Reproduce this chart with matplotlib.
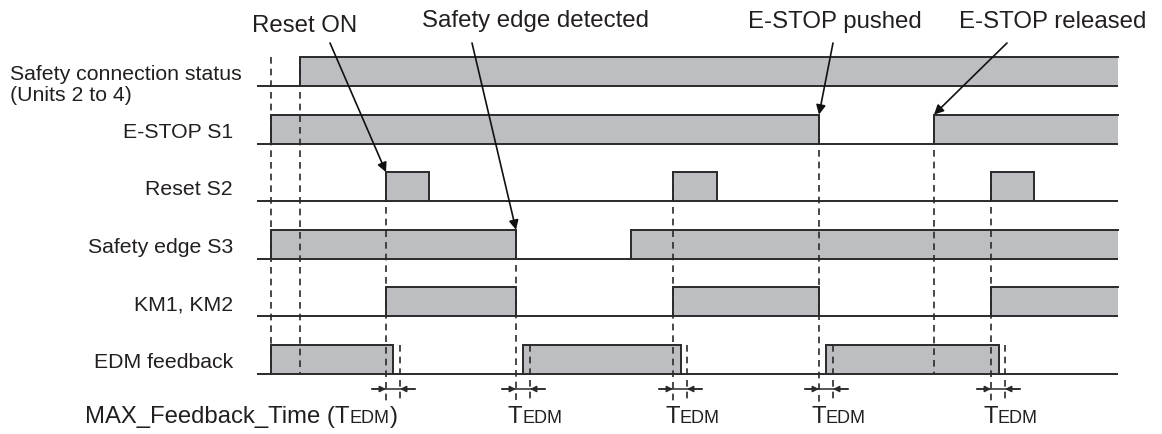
import matplotlib
matplotlib.use('Agg')
import matplotlib.pyplot as plt
from matplotlib.patches import Polygon

plt.rcParams['font.family'] = ['Liberation Sans', 'DejaVu Sans']

# Timeline (horizontal units ~ pixels of the original drawing)
t_start = 271
t_end = 1118
t_edm = 14

row_names = ['E-STOP S1', 'Reset S2', 'Safety edge S3', 'KM1, KM2', 'EDM feedback']

# ON intervals of each signal
conn_status = [(300, t_end)]
estop_s1 = [(t_start, 819), (934, t_end)]
reset_s2 = [(386, 429), (673, 717), (991, 1034)]
edge_s3 = [(t_start, 516), (631, t_end)]
km = [(386, 516), (673, 819), (991, t_end)]
edm = [(t_start, 393), (523, 681), (826, 999)]
signals = [conn_status, estop_s1, reset_s2, edge_s3, km, edm]

# events that get a TEDM measurement (KM1/KM2 transitions)
edm_events = [386, 516, 673, 819, 991]

# vertical guide lines: (time, first row, extends to bottom arrows?)
guides = [(271, 0, False), (300, 0, False), (386, 2, True), (516, 3, True),
          (673, 2, True), (819, 1, True), (934, 1, False), (991, 2, True)]

# top annotations: text, text x, text baseline y, arrow tip (time, row)
notes = [('Reset ON', 305, 32, 386, 2),
         ('Safety edge detected', 535, 27, 516, 3),
         ('E-STOP pushed', 835, 28, 819, 1),
         ('E-STOP released', 1053, 28, 934, 1)]
note_arrow_start = [330, 472, 833, 1007]

line_col = '#2a2a2a'
fill_col = '#bdbec1'
txt_col = '#231f20'

fig = plt.figure(figsize=(11.62, 4.34), dpi=100)
ax = fig.add_axes([0, 0, 1, 1])
ax.set_xlim(0, 1162)
ax.set_ylim(434, 0)
ax.axis('off')

row_h = 29
def base(i):
    return 86 + 57.6 * i

# signals
for i, sig in enumerate(signals):
    b = base(i)
    top = b - row_h
    ax.plot([257, t_end], [b, b], color=line_col, lw=1.4, solid_capstyle='butt')
    for on, off in sig:
        ax.add_patch(Polygon([(on, b), (on, top), (off, top), (off, b)],
                             closed=True, facecolor=fill_col, edgecolor='none'))
        xs = [on, on, off]
        ys = [b, top, top]
        if off < t_end:
            xs.append(off)
            ys.append(b)
        ax.plot(xs, ys, color=line_col, lw=1.4, solid_joinstyle='miter')

# labels on the left
ax.text(10, 80, 'Safety connection status', fontsize=15.3, color=txt_col, va='baseline')
ax.text(10, 101, '(Units 2 to 4)', fontsize=15.3, color=txt_col, va='baseline')
for i, name in enumerate(row_names):
    ax.text(233, base(i + 1) - 6, name, fontsize=15.3, color=txt_col,
            ha='right', va='baseline')

# dashed guide lines
dash = (0, (4, 3))
arrow_y = 389
guide_bottom = 403
for t, r, long in guides:
    y0 = base(r) - row_h
    y1 = guide_bottom if long else base(5)
    ax.plot([t, t], [y0, y1], color=line_col, lw=1.2, ls=dash)
for t in edm_events:
    ax.plot([t + t_edm, t + t_edm], [base(5) - row_h, guide_bottom],
            color=line_col, lw=1.2, ls=dash)

# TEDM arrows
for t in edm_events:
    ax.plot([t - 14, t + t_edm + 15], [arrow_y, arrow_y], color=line_col, lw=1.1)
    ax.annotate('', xy=(t, arrow_y), xytext=(t - 14, arrow_y),
                arrowprops=dict(arrowstyle='-|>', color=line_col, lw=1.1,
                                mutation_scale=9, shrinkA=0, shrinkB=0))
    ax.annotate('', xy=(t + t_edm, arrow_y), xytext=(t + t_edm + 15, arrow_y),
                arrowprops=dict(arrowstyle='-|>', color=line_col, lw=1.1,
                                mutation_scale=9, shrinkA=0, shrinkB=0))

# TEDM labels
lab_y = 423
big, small = 17.2, 13
first = ax.text(85, lab_y, 'MAX_Feedback_Time (T', fontsize=big, color=txt_col, va='baseline')
sub = ax.annotate('EDM', xy=(1, lab_y), xycoords=(first, 'data'), fontsize=small,
                  color=txt_col, va='baseline')
ax.annotate(')', xy=(1, lab_y), xycoords=(sub, 'data'), fontsize=big,
            color=txt_col, va='baseline')
for t in edm_events[1:]:
    tt = ax.text(t - 8, lab_y, 'T', fontsize=big, color=txt_col, va='baseline')
    ax.annotate('EDM', xy=(1, lab_y), xycoords=(tt, 'data'), fontsize=small,
                color=txt_col, va='baseline')

# top annotations with arrows
for (txt, tx, ty, tip_t, tip_r), x0 in zip(notes, note_arrow_start):
    ax.text(tx, ty, txt, fontsize=17.3, color=txt_col, ha='center', va='baseline')
    ax.annotate('', xy=(tip_t, base(tip_r) - row_h), xytext=(x0, 43),
                arrowprops=dict(arrowstyle='-|>', color='#111111', lw=1.2,
                                mutation_scale=14, shrinkA=0, shrinkB=0))

fig.savefig('out.png', dpi=100)
